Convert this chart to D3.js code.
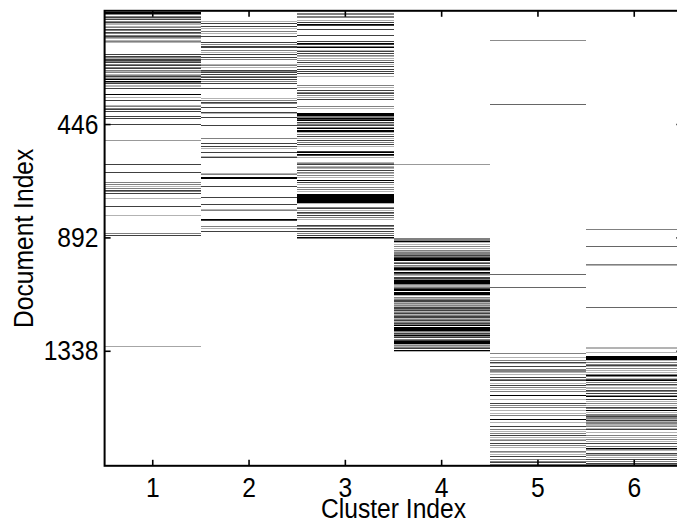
<!DOCTYPE html>
<html lang="en">
<head>
    <meta charset="UTF-8">
    <title>Document / Cluster Membership</title>
    <style>
        body {
            margin: 0;
            padding: 0;
            background-color: #ffffff;
            overflow: hidden;
        }
        svg text {
            font-family: 'Liberation Sans', Arial, sans-serif;
            fill: #000;
        }
        .tick text {
            font-size: 28px;
        }
        .axis-title {
            font-size: 28px;
        }
    </style>
</head>
<body>
    <div id="chart"></div>

    <script src="https://d3js.org/d3.v7.min.js"></script>
    <script>
        // categories and ticks
        const clusters = [1, 2, 3, 4, 5, 6];
        const docTicks = [446, 892, 1338];
        const docCount = 1790;

        // membership per cluster: [document index, strength 0..1]
        const cluster1 = [
            [5, 1], [8, 1], [10, 1], [14, 0.5], [21, 0.5], [26, 0.75], [30, 0.3], [34, 0.75], [40, 0.5],
            [45, 0.75], [50, 0.3], [55, 0.3], [60, 0.3], [66, 0.5], [73, 0.75], [79, 0.5], [84, 0.75],
            [89, 0.5], [95, 0.5], [100, 0.75], [104, 0.5], [109, 0.3], [115, 0.3], [122, 0.5], [126, 0.3],
            [171, 0.75], [179, 0.75], [183, 0.5], [187, 0.3], [191, 0.75], [197, 0.75], [201, 0.5],
            [205, 0.75], [210, 0.5], [215, 0.75], [221, 0.5], [227, 0.75], [234, 0.5], [239, 0.3],
            [244, 0.5], [249, 0.3], [253, 0.5], [257, 0.75], [261, 0.3], [265, 0.5], [270, 1], [276, 1],
            [281, 0.5], [286, 0.75], [292, 0.3], [296, 0.5], [299, 0.3], [307, 0.75], [329, 1], [339, 0.3],
            [354, 0.75], [372, 0.3], [378, 0.5], [383, 0.5], [388, 0.75], [395, 0.75], [414, 0.75],
            [425, 0.75], [446, 0.75], [509, 0.4], [605, 0.75], [635, 0.75], [677, 0.5], [682, 0.5],
            [689, 0.3], [699, 0.5], [705, 0.75], [712, 0.5], [719, 0.75], [740, 0.3], [771, 0.75],
            [805, 0.3], [876, 0.5], [883, 0.75], [1322, 0.35]
        ];
        const cluster2 = [
            [40, 0.3], [50, 0.75], [60, 0.75], [71, 0.3], [83, 0.5], [89, 0.3], [100, 0.75], [126, 0.75],
            [131, 0.5], [139, 0.75], [146, 0.75], [155, 0.5], [165, 0.3], [171, 0.75], [183, 0.75],
            [191, 0.5], [210, 0.3], [215, 0.5], [221, 0.3], [234, 0.75], [240, 0.5], [244, 0.75],
            [249, 0.75], [257, 0.5], [262, 0.75], [270, 0.75], [278, 0.5], [284, 0.75], [306, 0.75],
            [346, 0.3], [354, 0.5], [359, 0.75], [365, 0.5], [380, 0.75], [399, 0.75], [404, 0.3],
            [420, 0.75], [451, 0.75], [501, 0.5], [520, 0.75], [535, 0.75], [543, 0.3], [556, 0.75],
            [572, 0.3], [577, 0.75], [638, 0.3], [643, 0.5], [657, 1], [661, 1], [689, 0.75],
            [735, 0.75], [761, 0.75], [781, 0.3], [786, 0.5], [819, 1], [824, 0.75], [850, 0.5],
            [855, 0.3], [866, 0.75]
        ];
        const cluster3 = [
            [10, 0.5], [16, 0.5], [21, 0.5], [26, 0.5], [37, 0.3], [45, 0.75], [53, 1], [58, 0.75],
            [73, 0.75], [95, 0.75], [121, 0.75], [129, 1], [134, 0.75], [139, 0.5], [144, 1], [155, 0.3],
            [161, 0.75], [168, 0.75], [175, 0.5], [181, 0.3], [187, 0.3], [194, 0.5], [202, 0.75],
            [210, 0.3], [220, 0.75], [230, 0.75], [237, 0.75], [246, 0.75], [257, 0.3], [294, 0.5],
            [302, 0.3], [315, 0.75], [320, 0.5], [325, 0.75], [333, 0.5], [341, 0.3], [349, 0.75],
            [375, 0.5], [384, 0.3], [404, 1], [408, 1], [412, 1], [417, 0.5], [421, 0.5], [425, 1],
            [429, 0.75], [433, 1], [438, 0.75], [443, 0.3], [447, 0.5], [451, 0.75], [457, 0.5],
            [461, 0.75], [464, 1], [470, 1], [475, 1], [480, 0.3], [488, 0.5], [493, 0.75], [501, 0.3],
            [509, 0.75], [517, 0.5], [525, 0.75], [533, 0.3], [554, 0.75], [559, 1], [564, 1],
            [569, 0.75], [575, 0.3], [595, 0.3], [601, 0.5], [606, 0.75], [611, 0.3], [616, 0.5],
            [622, 0.3], [627, 0.75], [635, 0.5], [640, 0.3], [648, 0.5], [656, 0.3], [666, 1],
            [674, 0.75], [685, 0.3], [693, 0.5], [701, 0.5], [711, 0.3], [724, 1], [727, 1], [729, 1],
            [732, 1], [735, 1], [738, 1], [742, 1], [745, 1], [748, 1], [751, 1], [753, 1], [758, 0.3],
            [774, 0.5], [779, 0.75], [784, 0.3], [792, 0.75], [797, 0.5], [805, 0.75], [811, 0.5],
            [819, 0.3], [845, 0.75], [850, 0.5], [855, 0.75], [860, 0.3], [868, 0.75], [876, 0.5],
            [884, 0.75], [892, 1], [897, 0.5]
        ];
        const cluster4 = [
            [606, 0.4], [895, 0.5], [900, 0.5], [904, 0.5], [908, 1], [913, 0.3], [921, 0.3], [926, 0.5],
            [934, 0.3], [942, 0.5], [946, 0.3], [950, 0.5], [954, 0.5], [958, 0.5], [963, 0.75],
            [967, 0.5], [971, 0.75], [976, 1], [980, 1], [984, 1], [989, 0.5], [994, 0.75], [1000, 0.5],
            [1004, 0.3], [1008, 0.75], [1013, 1], [1018, 1], [1023, 0.5], [1028, 1], [1032, 0.75],
            [1036, 0.5], [1041, 0.3], [1047, 0.75], [1053, 0.75], [1057, 0.5], [1060, 1], [1065, 1],
            [1070, 1], [1073, 1], [1077, 0.5], [1081, 0.3], [1085, 0.3], [1089, 0.5], [1093, 0.75],
            [1096, 1], [1102, 1], [1107, 1], [1112, 1], [1115, 1], [1120, 0.3], [1126, 0.5], [1133, 0.3],
            [1137, 0.5], [1141, 0.75], [1145, 0.75], [1149, 0.3], [1153, 0.5], [1156, 0.3], [1160, 0.5],
            [1164, 0.3], [1167, 0.75], [1171, 0.75], [1175, 0.5], [1179, 0.75], [1183, 0.3], [1187, 0.5],
            [1191, 0.75], [1195, 0.3], [1199, 0.5], [1203, 0.75], [1207, 0.75], [1211, 0.3], [1214, 0.5],
            [1218, 0.75], [1222, 0.3], [1226, 0.5], [1230, 0.75], [1234, 0.5], [1238, 1], [1244, 1],
            [1249, 1], [1254, 1], [1257, 1], [1262, 0.5], [1266, 0.3], [1270, 0.75], [1273, 0.5],
            [1277, 1], [1281, 0.5], [1285, 0.75], [1291, 0.5], [1295, 0.75], [1299, 1], [1303, 1],
            [1307, 1], [1311, 0.5], [1314, 0.3], [1318, 0.5], [1322, 0.3], [1326, 0.5], [1330, 0.75],
            [1335, 1], [1340, 0.3]
        ];
        const cluster5 = [
            [116, 0.45], [368, 0.6], [1037, 0.6], [1089, 0.6], [1348, 0.5], [1362, 0.3], [1377, 0.5],
            [1383, 0.75], [1388, 0.3], [1398, 0.75], [1409, 0.5], [1414, 0.5], [1419, 0.5], [1422, 0.3],
            [1430, 0.3], [1443, 0.75], [1451, 0.5], [1456, 0.75], [1464, 0.3], [1472, 0.75], [1480, 0.5],
            [1490, 0.3], [1498, 0.5], [1514, 1], [1530, 0.3], [1545, 0.75], [1553, 0.5], [1561, 0.5],
            [1571, 0.3], [1582, 0.3], [1590, 0.5], [1606, 1], [1620, 0.3], [1637, 0.75], [1645, 0.5],
            [1653, 0.3], [1661, 0.5], [1669, 0.75], [1679, 0.3], [1686, 0.3], [1692, 0.5], [1703, 0.75],
            [1710, 0.5], [1718, 0.3], [1734, 0.5], [1739, 0.3], [1746, 0.3], [1755, 0.75], [1763, 0.5],
            [1771, 0.5], [1778, 0.75], [1786, 0.5]
        ];
        const cluster6 = [
            [860, 0.5], [926, 0.6], [997, 0.5], [1002, 0.3], [1165, 0.6], [1325, 0.3], [1330, 0.3],
            [1343, 0.3], [1359, 1], [1364, 1], [1367, 1], [1370, 1], [1377, 0.3], [1385, 0.5], [1390, 0.5],
            [1396, 0.75], [1401, 0.3], [1406, 0.5], [1414, 0.3], [1423, 0.3], [1430, 0.5], [1435, 1],
            [1440, 0.5], [1445, 0.3], [1450, 0.75], [1456, 1], [1462, 0.5], [1469, 0.75], [1475, 0.3],
            [1480, 0.3], [1487, 0.3], [1493, 0.75], [1498, 0.5], [1506, 0.75], [1514, 0.5], [1519, 1],
            [1527, 0.75], [1535, 0.3], [1543, 0.5], [1551, 0.3], [1561, 0.75], [1566, 0.5], [1571, 1],
            [1579, 0.3], [1587, 0.5], [1591, 0.5], [1595, 0.75], [1599, 0.5], [1603, 0.5], [1607, 0.3],
            [1611, 0.75], [1614, 0.3], [1618, 0.5], [1622, 0.5], [1626, 0.3], [1632, 0.3], [1637, 0.5],
            [1642, 0.3], [1647, 0.75], [1658, 0.3], [1669, 0.5], [1677, 0.3], [1685, 0.5], [1695, 0.3],
            [1703, 0.75], [1714, 0.5], [1722, 1], [1727, 0.5], [1730, 0.3], [1740, 0.75], [1745, 0.3],
            [1751, 0.5], [1758, 0.3], [1766, 0.75], [1774, 0.5], [1782, 0.75], [1786, 0.5], [1790, 1]
        ];
        const memberships = [cluster1, cluster2, cluster3, cluster4, cluster5, cluster6];

        const width = 677;
        const height = 521;
        const margin = { top: 10.8, right: -5.4, bottom: 55.2, left: 104.6 };
        const plotW = width - margin.left - margin.right;
        const plotH = height - margin.top - margin.bottom;
        const squeeze = 'scale(0.88,1)';   // the original font is a narrow sans

        const svg = d3.select('#chart')
            .append('svg')
            .attr('width', width)
            .attr('height', height);

        const g = svg.append('g')
            .attr('transform', `translate(${margin.left},${margin.top})`);

        const x = d3.scaleBand()
            .domain(clusters)
            .range([0, plotW])
            .padding(0);

        const y = d3.scaleLinear()
            .domain([0.5, docCount + 0.5])
            .range([0, plotH]);

        const shade = d3.scaleLinear()
            .domain([0, 1])
            .range(['#ffffff', '#000000']);

        // one row per document in each cluster column
        const rows = memberships.flatMap((list, i) =>
            list.map(([doc, v]) => ({ cluster: clusters[i], doc, v })));

        g.append('g')
            .attr('shape-rendering', 'crispEdges')
            .selectAll('rect')
            .data(rows)
            .enter().append('rect')
            .attr('x', d => x(d.cluster))
            .attr('width', x.bandwidth())
            .attr('y', d => Math.floor(y(d.doc)))
            .attr('height', Math.max(1, y(2) - y(1)))
            .attr('fill', d => shade(d.v));

        // axes with inward ticks on all four sides
        const tickLen = 6;
        const xBottom = g.append('g')
            .attr('transform', `translate(0,${plotH})`)
            .call(d3.axisBottom(x).tickSizeInner(-tickLen).tickSizeOuter(0).tickPadding(11));
        const xTop = g.append('g')
            .call(d3.axisTop(x).tickSizeInner(-tickLen).tickSizeOuter(0).tickFormat(''));
        const yLeft = g.append('g')
            .call(d3.axisLeft(y).tickValues(docTicks).tickFormat(d3.format('d'))
                .tickSizeInner(-tickLen).tickSizeOuter(0).tickPadding(7));
        const yRight = g.append('g')
            .attr('transform', `translate(${plotW},0)`)
            .call(d3.axisRight(y).tickValues(docTicks).tickSizeInner(-tickLen).tickSizeOuter(0).tickFormat(''));

        [xBottom, xTop, yLeft, yRight].forEach(a => {
            a.select('.domain').remove();
            a.selectAll('.tick line').attr('stroke', '#000').attr('stroke-width', 1.6);
            a.selectAll('.tick text').attr('transform', squeeze);
        });

        g.append('rect')
            .attr('width', plotW)
            .attr('height', plotH)
            .attr('fill', 'none')
            .attr('stroke', '#000')
            .attr('stroke-width', 2);

        svg.append('text')
            .attr('class', 'axis-title')
            .attr('transform', `translate(${margin.left + plotW / 2},518) ${squeeze}`)
            .attr('text-anchor', 'middle')
            .text('Cluster Index');

        svg.append('text')
            .attr('class', 'axis-title')
            .attr('transform', `translate(33,${margin.top + plotH / 2}) rotate(-90) ${squeeze}`)
            .attr('text-anchor', 'middle')
            .text('Document Index');
    </script>
</body>
</html>
